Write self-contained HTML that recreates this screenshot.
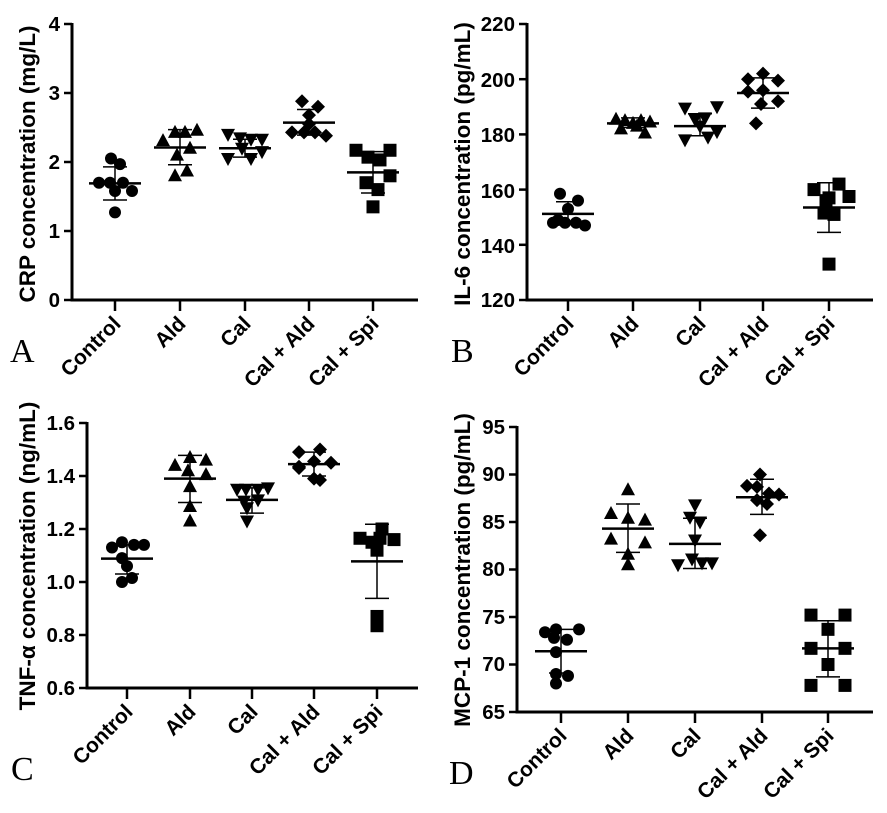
<!DOCTYPE html>
<html><head><meta charset="utf-8"><style>
body{margin:0;background:#fff}
svg{display:block}
text{font-family:"Liberation Sans",Arial,sans-serif;font-weight:bold;fill:#000}
.tk{font-size:20.5px}
.ax{font-size:22.5px}
.ct{font-size:21px}
.let{font-family:"Liberation Serif",serif;font-weight:normal;font-size:34px}
</style></head><body>
<svg id="s" width="887" height="813" viewBox="0 0 887 813" xmlns="http://www.w3.org/2000/svg">
<g class="tk" text-anchor="end">
<text x="60" y="31">4</text><text x="60" y="100">3</text><text x="60" y="169">2</text><text x="60" y="238">1</text><text x="60" y="307">0</text>
<text x="515" y="31">220</text><text x="515" y="87">200</text><text x="515" y="142">180</text><text x="515" y="198">160</text><text x="515" y="253">140</text><text x="515" y="307">120</text>
<text x="75" y="430">1.6</text><text x="75" y="483">1.4</text><text x="75" y="536">1.2</text><text x="75" y="589">1.0</text><text x="75" y="642">0.8</text><text x="75" y="695">0.6</text>
<text x="505" y="434">95</text><text x="505" y="481">90</text><text x="505" y="529">85</text><text x="505" y="576">80</text><text x="505" y="624">75</text><text x="505" y="671">70</text><text x="505" y="719">65</text>
</g>
<g class="ax" text-anchor="middle">
<text transform="translate(35,164) rotate(-90)">CRP concentration (mg/L)</text>
<text transform="translate(470,164) rotate(-90)">IL-6 concentration (pg/mL)</text>
<text transform="translate(35,556) rotate(-90)">TNF-α concentration (ng/mL)</text>
<text transform="translate(470,570) rotate(-90)">MCP-1 concentration (pg/mL)</text>
</g>
<g class="ct" text-anchor="end">
<text transform="translate(122,325) rotate(-45)">Control</text>
<text transform="translate(187,325) rotate(-45)">Ald</text>
<text transform="translate(252,325) rotate(-45)">Cal</text>
<text transform="translate(316,325) rotate(-45)">Cal + Ald</text>
<text transform="translate(380,325) rotate(-45)">Cal + Spi</text>

<text transform="translate(575,325) rotate(-45)">Control</text>
<text transform="translate(640,325) rotate(-45)">Ald</text>
<text transform="translate(707,325) rotate(-45)">Cal</text>
<text transform="translate(770,325) rotate(-45)">Cal + Ald</text>
<text transform="translate(836,325) rotate(-45)">Cal + Spi</text>

<text transform="translate(134,713) rotate(-45)">Control</text>
<text transform="translate(197,713) rotate(-45)">Ald</text>
<text transform="translate(259,713) rotate(-45)">Cal</text>
<text transform="translate(321,713) rotate(-45)">Cal + Ald</text>
<text transform="translate(384,713) rotate(-45)">Cal + Spi</text>

<text transform="translate(568,737) rotate(-45)">Control</text>
<text transform="translate(635,737) rotate(-45)">Ald</text>
<text transform="translate(702,737) rotate(-45)">Cal</text>
<text transform="translate(769,737) rotate(-45)">Cal + Ald</text>
<text transform="translate(835,737) rotate(-45)">Cal + Spi</text>
</g>
<text class="let" x="10" y="362">A</text>
<text class="let" x="451" y="362">B</text>
<text class="let" x="11" y="780">C</text>
<text class="let" x="449" y="784">D</text>
<g id="g"></g>
</svg>
<script>
var g=document.getElementById('g'),h='';
function L(a,b,c,d,w){h+='<line x1="'+a+'" y1="'+b+'" x2="'+c+'" y2="'+d+'" stroke="#000" stroke-width="'+w+'"/>';}
function M(t,x,y){
 if(t==0)h+='<circle cx="'+x+'" cy="'+y+'" r="6"/>';
 else if(t==1)h+='<polygon points="'+(x-7)+','+(y+5.5)+' '+(x+7)+','+(y+5.5)+' '+x+','+(y-7.5)+'"/>';
 else if(t==2)h+='<polygon points="'+(x-7)+','+(y-5.5)+' '+(x+7)+','+(y-5.5)+' '+x+','+(y+7.5)+'"/>';
 else if(t==3)h+='<polygon points="'+x+','+(y-7)+' '+(x+7)+','+y+' '+x+','+(y+7)+' '+(x-7)+','+y+'"/>';
 else h+='<rect x="'+(x-6.5)+'" y="'+(y-6.5)+'" width="13" height="13"/>';
}
function P(p){
 var ax=p.ax,top=p.top,bot=p.bot,v0=p.v0,v1=p.v1,end=p.end;
 function Y(v){return bot-(v-v0)/(v1-v0)*(bot-top);}
 L(ax,top-1,ax,bot+1.5,3);L(ax-1.5,bot,end,bot,3);
 p.ticks.forEach(function(t){L(ax-8,Y(t),ax,Y(t),2.5);});
 p.cx.forEach(function(c){L(c,bot,c,bot+11,2.5);});
 p.g.forEach(function(gr,i){
  var c=p.cx[i];
  gr.pts.forEach(function(q){M(i,c+q[0],Y(q[1]));});
  L(c,Y(gr.sd[0]),c,Y(gr.sd[1]),1.5);
  L(c-12,Y(gr.sd[0]),c+12,Y(gr.sd[0]),1.5);L(c-12,Y(gr.sd[1]),c+12,Y(gr.sd[1]),1.5);
  L(c-26,Y(gr.m),c+26,Y(gr.m),2.5);
 });
}
P({ax:72,top:24,bot:300,v0:0,v1:4,end:418,ticks:[0,1,2,3,4],cx:[115,180,245,309,373],g:[
 {m:1.69,sd:[1.93,1.45],pts:[[-4,2.05],[5,1.97],[-16,1.7],[-5,1.7],[8,1.7],[0,1.58],[17,1.58],[0,1.27]]},
 {m:2.21,sd:[2.47,1.96],pts:[[-17,2.31],[-5,2.43],[5,2.43],[17,2.46],[-3,2.1],[10,2.2],[-5,1.8],[7,1.87]]},
 {m:2.2,sd:[2.33,2.07],pts:[[-17,2.4],[-5,2.35],[6,2.33],[17,2.33],[-17,2.05],[-3,2.2],[6,2.05],[17,2.15]]},
 {m:2.57,sd:[2.76,2.39],pts:[[-7,2.88],[9,2.8],[0,2.68],[-17,2.43],[-5,2.43],[6,2.43],[17,2.38],[0,2.55]]},
 {m:1.85,sd:[2.15,1.55],pts:[[-17,2.17],[-5,2.07],[7,2.03],[17,2.17],[-7,1.7],[17,1.8],[5,1.6],[0,1.35]]}]});
P({ax:527,top:24,bot:300,v0:120,v1:220,end:873,ticks:[120,140,160,180,200,220],cx:[568,633,700,763,829],g:[
 {m:151.2,sd:[155.6,147.5],pts:[[-8,158.5],[10,156],[0,153],[-15,148],[-3,148],[8,148],[17,147],[-10,149]]},
 {m:184,sd:[186,182.5],pts:[[-17,185.5],[-8,185],[0,184],[8,185],[17,184.5],[-12,182],[4,183],[12,180.5]]},
 {m:183,sd:[187.5,179.5],pts:[[-15,189.5],[-5,185.5],[5,186],[17,190],[-15,178],[0,183],[8,179],[17,181]]},
 {m:195,sd:[200.5,189.5],pts:[[-15,200],[0,202],[15,199.5],[-15,195.5],[0,196],[15,192],[-2,191],[-7,184]]},
 {m:153.5,sd:[162.5,144.5],pts:[[-15,160],[0,157],[10,162],[20,157.5],[-5,151.5],[5,151],[-3,156],[0,133]]}]});
P({ax:87,top:423,bot:688,v0:0.6,v1:1.6,end:418,ticks:[0.6,0.8,1.0,1.2,1.4,1.6],cx:[127,190,252,314,377],g:[
 {m:1.088,sd:[1.14,1.03],pts:[[-15,1.13],[-5,1.15],[7,1.14],[17,1.14],[-5,1.09],[0,1.06],[-5,1.0],[5,1.015]]},
 {m:1.39,sd:[1.478,1.30],pts:[[-15,1.44],[0,1.47],[16,1.46],[-2,1.42],[16,1.405],[0,1.36],[0,1.285],[0,1.23]]},
 {m:1.31,sd:[1.355,1.26],pts:[[-15,1.35],[-6,1.35],[6,1.35],[16,1.355],[-8,1.305],[6,1.31],[-5,1.28],[-5,1.23]]},
 {m:1.445,sd:[1.49,1.40],pts:[[-15,1.49],[6,1.5],[0,1.455],[-15,1.43],[17,1.45],[-15,1.435],[0,1.39],[6,1.385]]},
 {m:1.078,sd:[1.218,0.938],pts:[[-17,1.165],[5,1.2],[17,1.16],[-5,1.15],[0,1.12],[0,0.87],[0,0.835],[3,1.165]]}]});
P({ax:517,top:427,bot:712,v0:65,v1:95,end:873,ticks:[65,70,75,80,85,90,95],cx:[561,628,695,762,828],g:[
 {m:71.4,sd:[73.7,69.1],pts:[[-16,73.4],[-5,73.7],[18,73.7],[-7,72.8],[6,72.6],[-5,71.3],[-5,69],[7,68.8],[-5,68]]},
 {m:84.3,sd:[86.9,81.8],pts:[[0,88.4],[-17,85.9],[0,85.4],[17,85.2],[-17,83.2],[17,82.8],[0,81.6],[0,80.5]]},
 {m:82.7,sd:[85.4,80.1],pts:[[0,86.8],[-5,85.5],[5,85],[0,83.1],[-3,81.1],[7,80.7],[-17,80.5],[17,80.7]]},
 {m:87.6,sd:[89.5,85.8],pts:[[-2,90],[-15,88.8],[-5,88.7],[7,88],[17,87.9],[-5,87.3],[5,86.9],[-2,83.6]]},
 {m:71.7,sd:[74.6,68.7],pts:[[-17,75.2],[17,75.2],[0,73.7],[-17,71.7],[17,71.7],[0,70],[-17,67.8],[17,67.8]]}]});
g.innerHTML=h;
</script>
</body></html>
